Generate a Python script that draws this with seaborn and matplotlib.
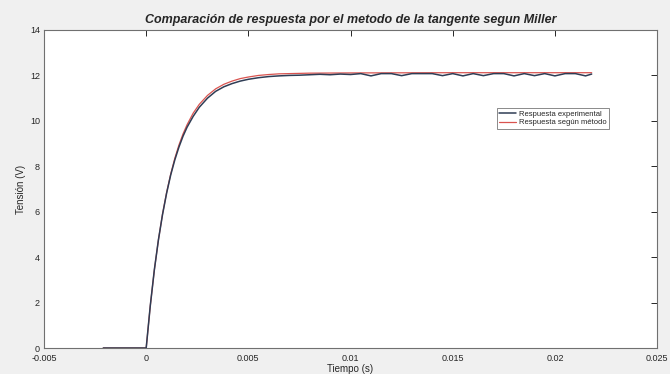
import matplotlib
matplotlib.use("Agg")
import matplotlib.pyplot as plt
import seaborn as sns
import pandas as pd

# ---- data ----
t_exp = [-0.0021, -0.0015, -0.0010, -0.0005, 0.0, 0.0002, 0.0004, 0.0006, 0.0008,
         0.0010, 0.0012, 0.0014, 0.0016, 0.0018, 0.0020, 0.0023, 0.0026, 0.0030,
         0.0034, 0.0038, 0.0042, 0.0046, 0.0050, 0.0055, 0.0060, 0.0065, 0.0070,
         0.0075, 0.0080, 0.0085, 0.0090, 0.0095, 0.0100, 0.0105, 0.0110, 0.0115,
         0.0120, 0.0125, 0.0130, 0.0135, 0.0140, 0.0145, 0.0150, 0.0155, 0.0160,
         0.0165, 0.0170, 0.0175, 0.0180, 0.0185, 0.0190, 0.0195, 0.0200, 0.0205,
         0.0210, 0.0215, 0.0218]
v_exp = [0.0, 0.0, 0.0, 0.0, 0.0, 1.86, 3.45, 4.77, 5.88,
         6.82, 7.62, 8.28, 8.84, 9.32, 9.72, 10.20, 10.60, 11.00,
         11.30, 11.50, 11.64, 11.75, 11.83, 11.90, 11.95, 11.98, 12.00,
         12.01, 12.03, 12.05, 12.03, 12.06, 12.04, 12.08, 11.98, 12.08,
         12.08, 11.99, 12.08, 12.08, 12.08, 11.99, 12.08, 11.98, 12.08,
         11.99, 12.08, 12.08, 11.98, 12.08, 11.99, 12.08, 11.98, 12.08,
         12.08, 11.98, 12.06]

t_mod = [-0.0021, -0.0010, 0.0, 0.0002, 0.0004, 0.0006, 0.0008, 0.0010, 0.0012,
         0.0014, 0.0016, 0.0018, 0.0020, 0.0023, 0.0026, 0.0030, 0.0034, 0.0038,
         0.0042, 0.0046, 0.0050, 0.0055, 0.0060, 0.0065, 0.0070, 0.0080, 0.0100,
         0.0150, 0.0218]
v_mod = [0.0, 0.0, 0.0, 1.86, 3.44, 4.77, 5.90, 6.85, 7.66,
         8.35, 8.93, 9.42, 9.83, 10.34, 10.73, 11.12, 11.41, 11.61,
         11.75, 11.86, 11.93, 12.00, 12.04, 12.07, 12.08, 12.10, 12.11,
         12.12, 12.12]

series_names = ["Respuesta experimental", "Respuesta según método"]
x_ticks = [-0.005, 0, 0.005, 0.01, 0.015, 0.02, 0.025]
x_tick_labels = ["-0.005", "0", "0.005", "0.01", "0.015", "0.02", "0.025"]
y_ticks = [0, 2, 4, 6, 8, 10, 12, 14]

df = pd.concat([
    pd.DataFrame({"t": t_mod, "v": v_mod, "serie": series_names[1]}),
    pd.DataFrame({"t": t_exp, "v": v_exp, "serie": series_names[0]}),
], ignore_index=True)

sns.set_style("white")
plt.rcParams["font.family"] = ["Liberation Sans", "DejaVu Sans"]

fig = plt.figure(figsize=(6.7, 3.74), dpi=100, facecolor="#f0f0f0")
ax = fig.add_axes([0.0657, 0.0695, 0.915, 0.8503])
ax.set_facecolor("white")

palette = {series_names[0]: "#2f3d55", series_names[1]: "#d9534f"}
widths = {series_names[0]: 1.1, series_names[1]: 0.9}
for name in [series_names[1], series_names[0]]:
    sub = df[df["serie"] == name]
    sns.lineplot(data=sub, x="t", y="v", ax=ax, color=palette[name],
                 linewidth=widths[name], sort=False, estimator=None, label=name)

ax.set_xlim(-0.005, 0.025)
ax.set_ylim(0, 14)
ax.set_xticks(x_ticks)
ax.set_xticklabels(x_tick_labels)
ax.set_yticks(y_ticks)
ax.tick_params(direction="in", top=True, right=True, length=4, width=0.7,
               labelsize=6.5, colors="#262626", pad=2)
ax.tick_params(axis="x", pad=4)
ax.tick_params(axis="y", pad=3)
for s in ax.spines.values():
    s.set_color("#707070")
    s.set_linewidth(0.8)

ax.set_xlabel("Tiempo (s)", fontsize=7, labelpad=1)
ax.set_ylabel("Tensión (V)", fontsize=7, labelpad=3)
ax.set_title("Comparación de respuesta por el metodo de la tangente segun Miller",
             fontsize=9, fontweight="bold", fontstyle="italic", pad=5)

handles, labels = ax.get_legend_handles_labels()
order = [labels.index(series_names[0]), labels.index(series_names[1])]
leg = ax.legend([handles[i] for i in order], [labels[i] for i in order],
                loc="upper right", bbox_to_anchor=(0.928, 0.767), fontsize=5.5,
                frameon=True, fancybox=False, edgecolor="#555555",
                borderpad=0.3, labelspacing=0.2, handlelength=2.2,
                handletextpad=0.4)
leg.get_frame().set_linewidth(0.6)

fig.savefig("out.png", dpi=100, facecolor=fig.get_facecolor())
